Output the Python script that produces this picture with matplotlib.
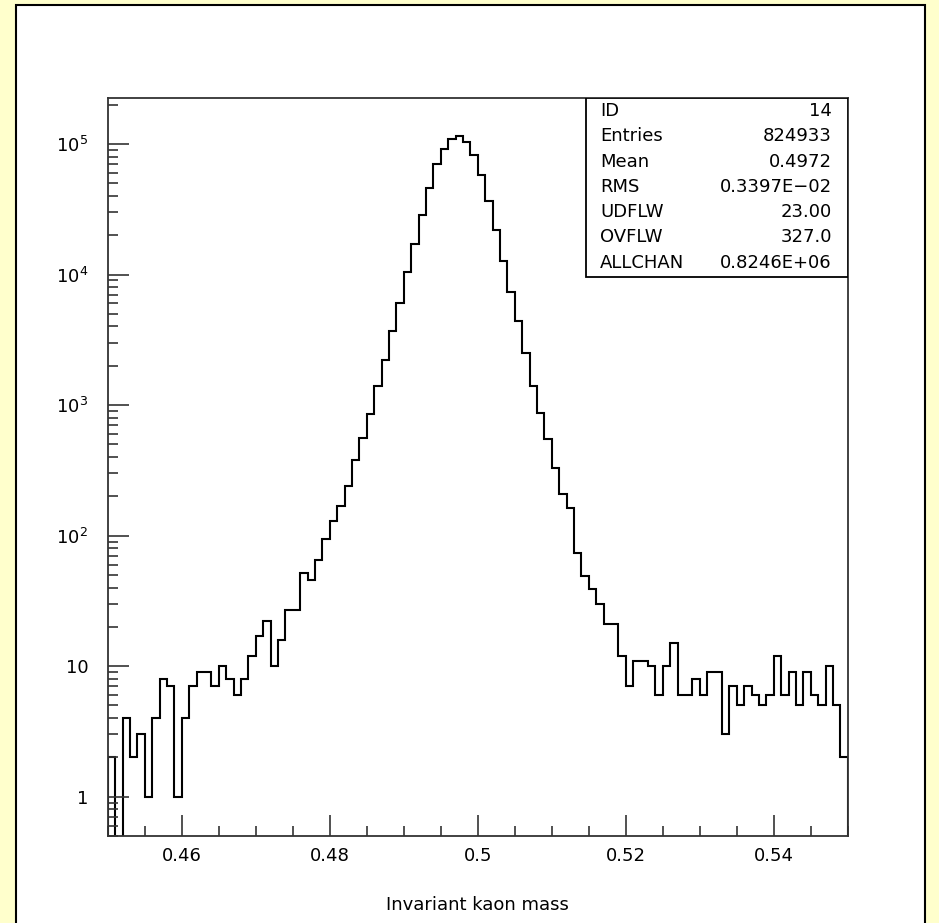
import numpy as np
import matplotlib.pyplot as plt
from matplotlib.patches import Rectangle
from matplotlib.ticker import FixedLocator, FuncFormatter, MultipleLocator

# histogram: 100 bins from 0.45 to 0.55
x_lo, x_hi, n_bins = 0.45, 0.55, 100
counts = np.array([
    2, 0, 4, 2, 3, 1, 4, 8, 7, 1,
    4, 7, 9, 9, 7, 10, 8, 6, 8, 12,
    17, 22, 10, 16, 27, 27, 52, 46, 65, 95,
    129, 168, 240, 377, 563, 855, 1393, 2233, 3680, 6064,
    10380, 17020, 28570, 46010, 69860, 91000, 109200, 114600, 103000, 82800,
    57800, 36730, 21900, 12670, 7290, 4400, 2500, 1400, 870, 550,
    327, 208, 163, 73, 49, 39, 30, 21, 21, 12,
    7, 11, 11, 10, 6, 10, 15, 6, 6, 8,
    6, 9, 9, 3, 7, 5, 7, 6, 5, 6,
    12, 6, 9, 5, 9, 6, 5, 10, 5, 2,
], dtype=float)

stat_names = ["ID", "Entries", "Mean", "RMS", "UDFLW", "OVFLW", "ALLCHAN"]
stat_values = ["14", "824933", "0.4972", "0.3397E\u221202", "23.00", "327.0", "0.8246E+06"]
x_label = "Invariant kaon mass"

edges = np.linspace(x_lo, x_hi, n_bins + 1)
ymin, ymax = 0.5, 2.25e5
fs = 13

W, H = 939, 923
fig = plt.figure(figsize=(W / 100, H / 100), dpi=100)
fig.patch.set_facecolor("#ffffcc")
# white canvas with black frame
fig.patches.append(Rectangle((16 / W, -0.01), (925 - 16) / W, 1 - 5 / H + 0.01,
                             transform=fig.transFigure, facecolor="white",
                             edgecolor="black", linewidth=1.5, zorder=-10))

ax = fig.add_axes([107.7 / W, 1 - 836 / H, 740 / W, (836 - 98) / H])
ax.set_zorder(1)
ax.set_facecolor("white")

# empty bins drop below the axis bottom
plot_counts = np.where(counts > 0, counts, ymin * 1e-3)
ax.stairs(plot_counts, edges, baseline=None, color="black", linewidth=1.5)
ax.plot([edges[0], edges[0]], [ymin * 1e-3, plot_counts[0]], color="black", lw=1.5)
ax.plot([edges[-1], edges[-1]], [ymin * 1e-3, plot_counts[-1]], color="black", lw=1.5)

ax.set_yscale("log")
ax.set_xlim(x_lo, x_hi)
ax.set_ylim(ymin, ymax)

for s in ax.spines.values():
    s.set_linewidth(1.3)
    s.set_color("#333333")

ax.xaxis.set_major_locator(MultipleLocator(0.02))
ax.xaxis.set_minor_locator(MultipleLocator(0.005))
ax.xaxis.set_major_formatter(FuncFormatter(lambda v, p: f"{v:.2f}".rstrip("0")))

majors = [1, 10, 100, 1e3, 1e4, 1e5]
minors = [m * d for d in [0.1, 1, 10, 100, 1e3, 1e4, 1e5] for m in range(2, 10)]
ax.yaxis.set_major_locator(FixedLocator(majors))
ax.yaxis.set_minor_locator(FixedLocator(minors))


def ylab(v, p):
    if v == 1:
        return "1"
    if v == 10:
        return "10"
    return r"$10^{%d}$" % round(np.log10(v))


ax.yaxis.set_major_formatter(FuncFormatter(ylab))
ax.tick_params(which="major", direction="in", length=15, width=1.2, color="#333333",
               labelsize=fs, pad=8)
ax.tick_params(which="minor", direction="in", length=7, width=1.2, color="#333333")
ax.tick_params(axis="y", which="major", pad=14)

ax.set_xlabel(x_label, fontsize=fs, labelpad=22)

# statistics box
box_left = (586 - 107.7) / 740
box_bottom = (836 - 277) / 738
ax.add_patch(Rectangle((box_left, box_bottom), 1 - box_left, 1 - box_bottom,
                       transform=ax.transAxes, facecolor="white",
                       edgecolor="black", linewidth=1.3, zorder=5))
for i, (name, val) in enumerate(zip(stat_names, stat_values)):
    yc = (836 - (111 + 25.3 * i)) / 738
    ax.text((600 - 107.7) / 740, yc, name, transform=ax.transAxes, ha="left",
            va="center", fontsize=fs, zorder=6)
    ax.text((832 - 107.7) / 740, yc, val, transform=ax.transAxes, ha="right",
            va="center", fontsize=fs, zorder=6)

fig.savefig("out.png", dpi=100, facecolor=fig.get_facecolor())
